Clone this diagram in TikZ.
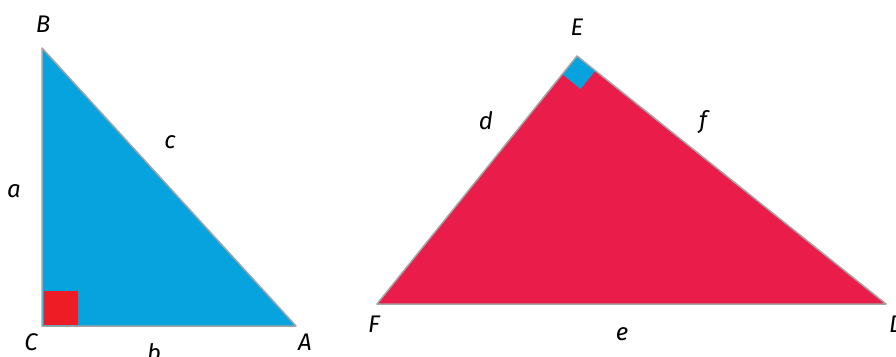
\documentclass[tikz,border=0pt]{standalone}
\usepackage{fontspec}
\setmainfont{Fira Sans}
\usepackage{xcolor}
\usepackage{tikz}
\usetikzlibrary{calc}
\definecolor{triblue}{HTML}{07A3DF}
\definecolor{trired}{HTML}{E91C4A}
\definecolor{markred}{HTML}{EE1C25}
\definecolor{edgegray}{HTML}{A3A3A3}
\begin{document}
\begin{tikzpicture}[
  x=1pt, y=-1pt,
  font=\fontsize{24}{28}\selectfont\itshape,
  side/.style={draw=edgegray, line width=1.5pt, line join=round},
  lbl/.style={inner sep=0pt, anchor=base},
]
\useasboundingbox (0,0) rectangle (896,356);
% left triangle
\coordinate (B) at (42,48);
\coordinate (C) at (42,326);
\coordinate (A) at (296,326);
\fill[triblue] (B) -- (C) -- (A) -- cycle;
\fill[markred] ($(C)+(2,-1)$) rectangle ++(34,-34);
\draw[side] (B) -- (C) -- (A) -- cycle;
% right triangle
\coordinate (E) at (577,56);
\coordinate (F) at (377,304);
\coordinate (D) at (886,304);
\fill[trired] (E) -- (F) -- (D) -- cycle;
\coordinate (e1) at ($(E)!23.5pt!(F)$);
\coordinate (e2) at ($(E)!23.5pt!(D)$);
\fill[triblue] (E) -- (e1) -- ($(e1)+(e2)-(E)$) -- (e2) -- cycle;
\draw[side] (E) -- (F) -- (D) -- cycle;
% labels
\foreach \t/\x/\y in {B/43/32, a/14/197, c/170/148, C/31/350, A/305/350, b/154/361,
                      E/577/35, d/486/129, f/703/128, F/374/332, e/622/340}
  \node[lbl] (l\t) at (\x,\y) {\t};
\node[lbl, anchor=base west] (lD) at (889,332) {D};
\end{tikzpicture}
\end{document}
